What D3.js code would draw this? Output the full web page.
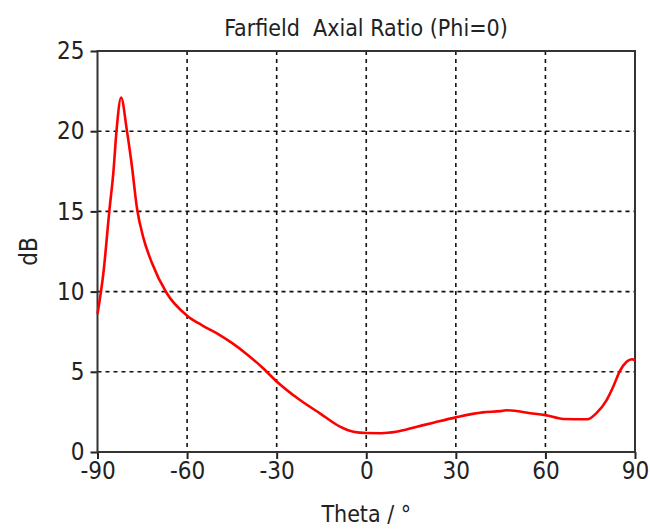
<!DOCTYPE html>
<html>
<head>
<meta charset="utf-8">
<script src="https://cdn.jsdelivr.net/npm/d3@7"></script>
<style>
  body { margin: 0; background: #fff; }
  text { font-family: "DejaVu Sans Condensed", "DejaVu Sans", sans-serif; fill: #222; }
</style>
</head>
<body>
<script>
// theta (deg) and axial ratio (dB)
var theta = [-90, -88, -86, -84.7, -83.6, -82.1, -80.2, -78.6, -76.7, -74.7, -71.8, -66.8, -60, -55, -50, -45, -40, -35, -30,
             -22.2, -15.5, -8.8, -4.3, 0, 5, 10, 17, 22.5, 30, 39, 45, 47, 55, 60, 66, 74, 77, 80.5, 82.7, 85, 87.2, 89, 90];
var axialRatio = [8.6, 11.2, 15.1, 17.4, 20.1, 22.1, 20.1, 18.0, 15.1, 13.4, 11.8, 9.9, 8.5, 7.9, 7.4, 6.8, 6.1, 5.3, 4.4,
                  3.24, 2.41, 1.58, 1.26, 1.18, 1.17, 1.26, 1.58, 1.83, 2.16, 2.47, 2.55, 2.6, 2.42, 2.3, 2.06, 2.04, 2.41, 3.24, 4.07, 5.07, 5.63, 5.78, 5.7];
var xTicks = [-90, -60, -30, 0, 30, 60, 90];
var yTicks = [0, 5, 10, 15, 20, 25];

var width = 650, height = 531,
    margin = { top: 51, right: 15, bottom: 79, left: 97.5 };

var svg = d3.select("body").append("svg")
    .attr("width", width)
    .attr("height", height);

var x = d3.scaleLinear().domain([-90, 90]).range([margin.left, width - margin.right]);
var y = d3.scaleLinear().domain([0, 25]).range([height - margin.bottom, margin.top]);

// grid
svg.append("g")
    .selectAll("line.gx")
    .data(xTicks.slice(1, -1))
    .enter().append("line")
    .attr("x1", d => x(d)).attr("x2", d => x(d))
    .attr("y1", y(25)).attr("y2", y(0))
    .attr("stroke", "#111").attr("stroke-width", 1.6)
    .attr("stroke-dasharray", "4,4");

svg.append("g")
    .selectAll("line.gy")
    .data(yTicks.slice(1, -1))
    .enter().append("line")
    .attr("x1", x(-90)).attr("x2", x(90))
    .attr("y1", d => y(d)).attr("y2", d => y(d))
    .attr("stroke", "#111").attr("stroke-width", 1.6)
    .attr("stroke-dasharray", "4,4");

// axes (plain hyphen minus like the original)
var xAxis = d3.axisBottom(x).tickValues(xTicks).tickFormat(d => String(d)).tickSize(7).tickSizeOuter(0).tickPadding(3);
var yAxis = d3.axisLeft(y).tickValues(yTicks).tickFormat(d => String(d)).tickSize(7).tickSizeOuter(0).tickPadding(6);

svg.append("g")
    .attr("class", "x axis")
    .attr("transform", `translate(0,${y(0)})`)
    .call(xAxis)
    .call(g => g.select(".domain").remove());

svg.append("g")
    .attr("class", "y axis")
    .attr("transform", `translate(${x(-90)},0)`)
    .call(yAxis)
    .call(g => g.select(".domain").remove());

svg.selectAll(".axis .tick line").attr("stroke", "#222").attr("stroke-width", 2);
svg.selectAll(".axis text").style("font-size", "24px").attr("fill", "#222");

// frame
svg.append("rect")
    .attr("x", x(-90)).attr("y", y(25))
    .attr("width", x(90) - x(-90)).attr("height", y(0) - y(25))
    .attr("fill", "none").attr("stroke", "#333").attr("stroke-width", 2);

// curve
var line = d3.line()
    .x((d, i) => x(theta[i]))
    .y(d => y(d))
    .curve(d3.curveMonotoneX);

svg.append("path")
    .datum(axialRatio)
    .attr("d", line)
    .attr("fill", "none")
    .attr("stroke", "#f00")
    .attr("stroke-width", 2.6);

// labels
svg.append("text")
    .attr("x", 366).attr("y", 36)
    .attr("text-anchor", "middle")
    .attr("xml:space", "preserve")
    .style("font-size", "23px")
    .text("Farfield  Axial Ratio (Phi=0)");

svg.append("text")
    .attr("x", x(0)).attr("y", 522)
    .attr("text-anchor", "middle")
    .style("font-size", "23px")
    .text("Theta / °");

svg.append("text")
    .attr("transform", `translate(37,${y(12.5)}) rotate(-90)`)
    .attr("text-anchor", "middle")
    .style("font-size", "24px")
    .text("dB");
</script>
</body>
</html>
